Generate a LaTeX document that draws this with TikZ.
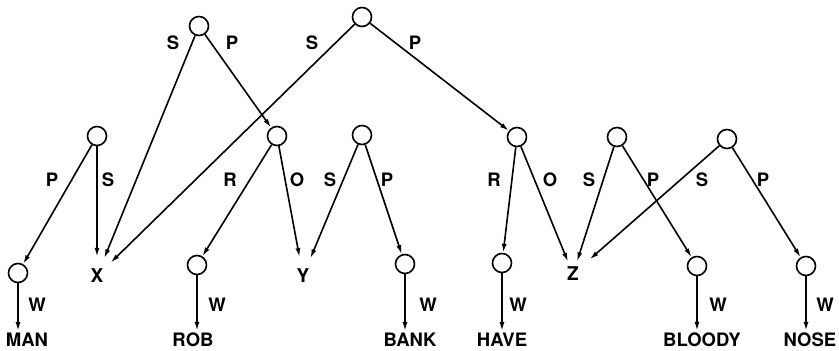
\documentclass[tikz,border=0pt]{standalone}
\usepackage{fontspec}
\setmainfont{TeX Gyre Heros}
\usetikzlibrary{arrows.meta}
\begin{document}
\begin{tikzpicture}[x=1pt,y=-1pt,
  nd/.style={circle,draw,line width=1.6pt,minimum size=19pt,inner sep=0pt},
  var/.style={circle,minimum size=38pt,inner sep=0pt,font=\bfseries\fontsize{19}{19}\selectfont},
  word/.style={font=\bfseries\fontsize{18.5}{18.5}\selectfont,inner sep=2pt},
  lbl/.style={font=\bfseries\fontsize{18.5}{18.5}\selectfont,inner sep=0pt},
  arr/.style={line width=1.6pt,-{Latex[length=9pt,width=5pt]}},
  ]
\useasboundingbox (0,0) rectangle (839,351);
% circles
\node[nd] (t1) at (199,26) {};
\node[nd] (t2) at (362,17) {};
\node[nd] (m1) at (97,136) {};
\node[nd] (m2) at (277,136) {};
\node[nd] (m3) at (362,135) {};
\node[nd] (m4) at (517,137) {};
\node[nd] (m5) at (617,137) {};
\node[nd] (m6) at (727,139) {};
\node[nd] (b1) at (18,273) {};
\node[nd] (b2) at (197,265) {};
\node[nd] (b3) at (405,264) {};
\node[nd] (b4) at (502,263) {};
\node[nd] (b5) at (697,266) {};
\node[nd] (b6) at (806,266) {};
% variables
\node[var] (x) at (97,276) {X};
\node[var] (y) at (303,276) {Y};
\node[var,minimum size=26pt] (z) at (573,274) {Z};
% words
\node[word] (man) at (27,340) {MAN};
\node[word] (rob) at (193,340) {ROB};
\node[word] (bank) at (410,340) {BANK};
\node[word] (have) at (502,340) {HAVE};
\node[word] (bloody) at (702,340) {BLOODY};
\node[word] (nose) at (810,340) {NOSE};
% edges
\draw[arr] (t1) -- (x);
\draw[arr] (t1) -- (m2);
\draw[arr] (t2) -- (x);
\draw[arr] (t2) -- (m4);
\draw[arr] (m1) -- (b1);
\draw[arr] (m1) -- (x);
\draw[arr] (m2) -- (b2);
\draw[arr] (m2) -- (y);
\draw[arr] (m3) -- (y);
\draw[arr] (m3) -- (b3);
\draw[arr] (m4) -- (b4);
\draw[arr] (m4) -- (z);
\draw[arr] (m5) -- (z);
\draw[arr] (m5) -- (b5);
\draw[arr,shorten >=9pt] (m6) -- (z);
\draw[arr] (m6) -- (b6);
% W arrows
\draw[arr] (b1) -- (b1 |- man.north);
\draw[arr] (b2) -- (b2 |- rob.north);
\draw[arr] (b3) -- (b3 |- bank.north);
\draw[arr] (b4) -- (b4 |- have.north);
\draw[arr] (b5) -- (b5 |- bloody.north);
\draw[arr] (b6) -- (b6 |- nose.north);
% edge labels
\node[lbl] (l1) at (173,43) {S};
\node[lbl] (l2) at (232,43) {P};
\node[lbl] (l3) at (312,43) {S};
\node[lbl] (l4) at (415,43) {P};
\node[lbl] (l5) at (52,180) {P};
\node[lbl] (l6) at (108,180) {S};
\node[lbl] (l7) at (230,180) {R};
\node[lbl] (l8) at (297,180) {O};
\node[lbl] (l9) at (330,180) {S};
\node[lbl] (l10) at (387,180) {P};
\node[lbl] (l11) at (494,180) {R};
\node[lbl] (l12) at (550,180) {O};
\node[lbl] (l13) at (589,180) {S};
\node[lbl] (l14) at (653,180) {P};
\node[lbl] (l15) at (702,180) {S};
\node[lbl] (l16) at (763,180) {P};
% W labels
\node[lbl] (w1) at (37,305) {W};
\node[lbl] (w2) at (217,305) {W};
\node[lbl] (w3) at (428,305) {W};
\node[lbl] (w4) at (518,305) {W};
\node[lbl] (w5) at (718,305) {W};
\node[lbl] (w6) at (825,305) {W};
\end{tikzpicture}
\end{document}
